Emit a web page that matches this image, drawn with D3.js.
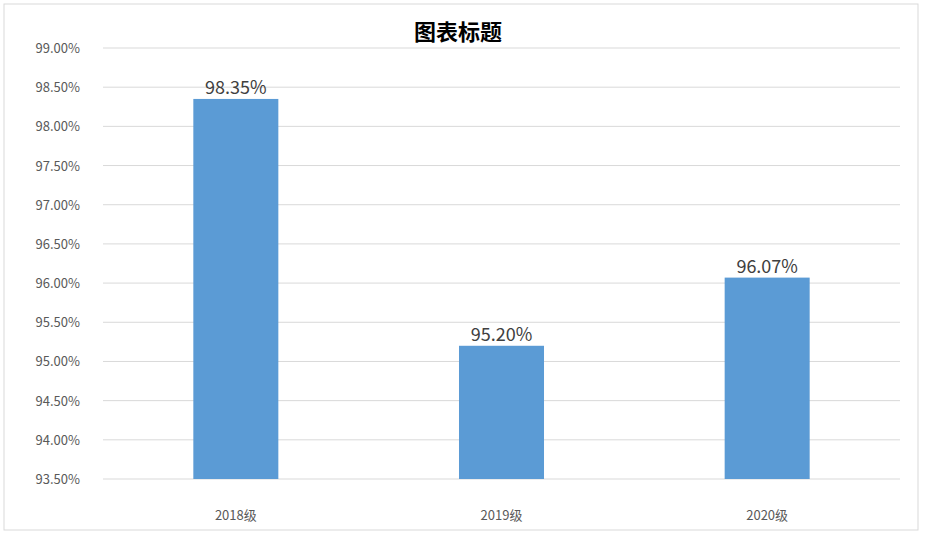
<!DOCTYPE html>
<html><head><meta charset="utf-8">
<script src="https://cdn.jsdelivr.net/npm/d3@7"></script>
<style>body{margin:0;background:#fff;font-family:"Noto Sans CJK SC","Noto Sans",sans-serif}</style>
</head><body><svg id="c" width="926" height="547"></svg>
<script>
const categories = ["2018级","2019级","2020级"];
const values = [98.35, 95.20, 96.07];
const yTicks = [93.5,94,94.5,95,95.5,96,96.5,97,97.5,98,98.5,99];
const title = "图表标题";

const svg = d3.select("#c");
const m = {l:103, r:900, t:48, b:479};
svg.append("rect").attr("x",4).attr("y",4).attr("width",914).attr("height",526)
  .attr("fill","#fff").attr("stroke","#d9d9d9");
const x = d3.scaleBand().domain(categories).range([m.l,m.r]).paddingInner(0.68).paddingOuter(0.34);
const y = d3.scaleLinear().domain([93.5,99]).range([m.b,m.t]);

svg.append("g").selectAll("line").data(yTicks).join("line")
  .attr("x1",m.l).attr("x2",m.r).attr("y1",d=>y(d)).attr("y2",d=>y(d))
  .attr("stroke","#d9d9d9").attr("stroke-width",1);
svg.append("g").selectAll("text").data(yTicks).join("text")
  .attr("x",80).attr("y",d=>y(d)+5).attr("text-anchor","end")
  .attr("font-size",13).attr("fill","#595959").text(d=>d.toFixed(2)+"%");
svg.append("g").selectAll("rect").data(values).join("rect")
  .attr("x",(d,i)=>x(categories[i])).attr("width",x.bandwidth())
  .attr("y",d=>y(d)).attr("height",d=>m.b-y(d)).attr("fill","#5b9bd5");
svg.append("g").selectAll("text").data(values).join("text")
  .attr("x",(d,i)=>x(categories[i])+x.bandwidth()/2).attr("y",d=>y(d)-5)
  .attr("text-anchor","middle").attr("font-size",18).attr("fill","#404040")
  .text(d=>d.toFixed(2)+"%");
svg.append("g").selectAll("text").data(categories).join("text")
  .attr("x",d=>x(d)+x.bandwidth()/2).attr("y",520).attr("text-anchor","middle")
  .attr("font-size",13).attr("fill","#595959").text(d=>d);
svg.append("text").attr("x",458).attr("y",40).attr("text-anchor","middle")
  .attr("font-size",22).attr("font-weight","bold").attr("fill","#000").text(title);
</script></body></html>
